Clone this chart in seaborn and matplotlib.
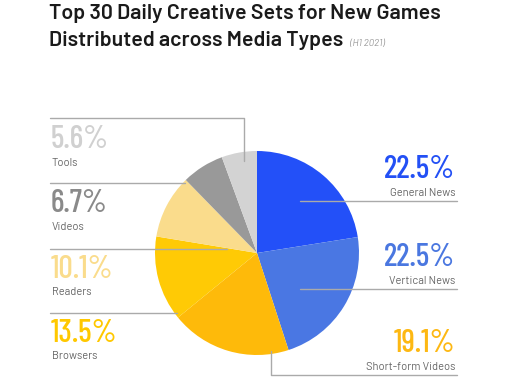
import matplotlib
matplotlib.use("Agg")
import matplotlib.pyplot as plt
import seaborn as sns

sns.set_theme(style="white")
plt.rcParams["font.family"] = ["Barlow", "DejaVu Sans"]

CATEGORIES = ["General News", "Vertical News", "Short-form Videos", "Browsers",
              "Readers", "Videos", "Tools"]
SHARES = [22.5, 22.5, 19.1, 13.5, 10.1, 6.7, 5.6]
COLORS = ["#2350F8", "#4A77E3", "#FEBA0A", "#FFCA05", "#FADC8C", "#999999", "#D3D3D3"]
TEXT_COLORS = ["#2350F5", "#4A77E0", "#FDB813", "#FFC800", "#FADC8C", "#8A8A8A", "#D0D0D0"]

H = 381
fig = plt.figure(figsize=(5.12, 3.81), dpi=100)
ax = fig.add_axes([0, 0, 1, 1])

ax.pie(SHARES, colors=sns.color_palette(COLORS), startangle=90, counterclock=False,
       center=(257, H - 253), radius=102, wedgeprops={"linewidth": 0})
ax.set_xlim(0, 512)
ax.set_ylim(0, H)
ax.set_aspect("auto")
ax.axis("off")

line_kw = dict(color="#AAAAAA", linewidth=1, zorder=3)

def pline(xs, ys):
    ax.plot(xs, [H - y for y in ys], **line_kw)

# leader lines (pixel coordinates, y from the top)
pline([300, 457], [201, 201])                      # General News
pline([300, 457], [289, 289])                      # Vertical News
pline([271, 271, 457], [351, 375, 375])            # Short-form Videos
pline([50, 177], [313, 313])                       # Browsers
pline([50, 227], [249, 249])                       # Readers
pline([50, 185], [183, 183])                       # Videos
pline([50, 244, 244], [118, 118, 161])             # Tools

big = dict(family=["Barlow Condensed", "DejaVu Sans"], fontsize=23, fontweight="medium",
           va="center")
small = dict(fontsize=8, color="#666666", va="center")

right_pos = {"General News": (170, 193), "Vertical News": (257, 281),
             "Short-form Videos": (343, 367)}
left_pos = {"Browsers": (333, 356), "Readers": (270, 292), "Videos": (204, 227),
            "Tools": (140, 163)}

for cat, share, tc in zip(CATEGORIES, SHARES, TEXT_COLORS):
    if cat in right_pos:
        y1, y2 = right_pos[cat]
        ax.text(455, H - y1, f"{share:.1f}%", color=tc, ha="right", **big)
        ax.text(455, H - y2, cat, ha="right", **small)
    else:
        y1, y2 = left_pos[cat]
        ax.text(51, H - y1, f"{share:.1f}%", color=tc, ha="left", **big)
        ax.text(52, H - y2, cat, ha="left", **small)

title_kw = dict(fontsize=15.4, fontweight="semibold", color="#1A1A1A", va="baseline")
ax.text(49, H - 19, "Top 30 Daily Creative Sets for New Games", **title_kw)
ax.text(49, H - 46, "Distributed across Media Types", **title_kw)
ax.text(350, H - 46, "(H1 2021)", fontsize=7, style="italic", color="#999999",
        va="baseline")

fig.savefig("out.png", dpi=100)
